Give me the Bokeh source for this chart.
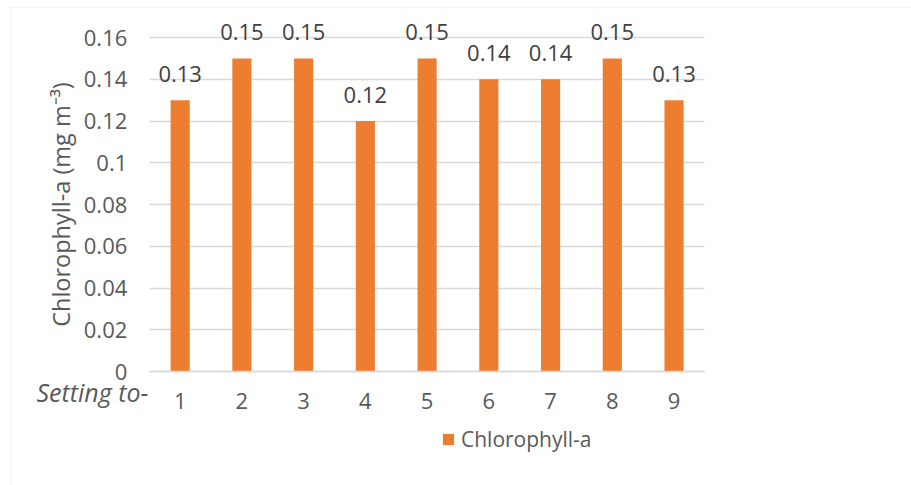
from bokeh.plotting import figure
from bokeh.models import (ColumnDataSource, LabelSet, Label, Legend, LegendItem,
                          FixedTicker, Range1d, BoxAnnotation)
from bokeh.core.properties import value
from bokeh.embed import file_html
from bokeh.resources import INLINE

# ---- data ----
settings = [1, 2, 3, 4, 5, 6, 7, 8, 9]
chlorophyll = [0.13, 0.15, 0.15, 0.12, 0.15, 0.14, 0.14, 0.15, 0.13]
value_labels = ["0.13", "0.15", "0.15", "0.12", "0.15", "0.14", "0.14", "0.15", "0.13"]
y_ticks = [0, 0.02, 0.04, 0.06, 0.08, 0.1, 0.12, 0.14, 0.16]
y_tick_labels = ["0", "0.02", "0.04", "0.06", "0.08", "0.1", "0.12", "0.14", "0.16"]
series_name = "Chlorophyll-a"
y_title = "Chlorophyll-a (mg m\u207b\u00b3)"
x_title = "Setting to-"

FONT = "Open Sans"
BAR = "#ED7D31"
GRID = "#D9D9D9"
TXT = "#595959"

W, H = 911, 485
# plot-area placement (pixels) inside the chart canvas
PX_LEFT, PX_RIGHT, PX_TOP, PX_BOTTOM = 148.8, 704.4, 37, 371
X_LO, X_HI = 0.5, 9.5
Y_LO, Y_HI = 0.0, 0.16
xs = (X_HI - X_LO) / (PX_RIGHT - PX_LEFT)
ys = (Y_HI - Y_LO) / (PX_BOTTOM - PX_TOP)
x_range = Range1d(X_LO - PX_LEFT * xs, X_HI + (W - PX_RIGHT) * xs)
y_range = Range1d(Y_LO - (H - PX_BOTTOM) * ys, Y_HI + PX_TOP * ys)

src = ColumnDataSource(dict(x=settings, y=chlorophyll, lab=value_labels))

p = figure(width=W, height=H, output_backend="svg", toolbar_location=None,
           x_range=x_range, y_range=y_range,
           min_border=0, min_border_left=0, min_border_right=0,
           min_border_top=0, min_border_bottom=0)
p.outline_line_color = None
p.background_fill_color = "white"
p.border_fill_color = "white"

# horizontal gridlines limited to the plot area
p.xgrid.grid_line_color = None
grid_ok = True
try:
    p.ygrid.cross_bounds = (X_LO, X_HI)
except Exception:
    grid_ok = False
if grid_ok:
    p.ygrid.ticker = FixedTicker(ticks=y_ticks)
    p.ygrid.grid_line_color = GRID
    p.ygrid.grid_line_width = 1.5
else:
    p.ygrid.grid_line_color = None
    p.segment(x0=[X_LO] * len(y_ticks), x1=[X_HI] * len(y_ticks), y0=y_ticks,
              y1=y_ticks, line_color=GRID, line_width=1.5)

r = p.vbar(x="x", top="y", width=0.31, source=src, fill_color=BAR, line_color=None)

# y axis
p.yaxis.fixed_location = X_LO
p.yaxis.bounds = (Y_LO, Y_HI)
p.yaxis.ticker = FixedTicker(ticks=y_ticks)
p.yaxis.major_label_overrides = {t: l for t, l in zip(y_ticks, y_tick_labels)}
p.yaxis.axis_line_color = None
p.yaxis.major_tick_line_color = None
p.yaxis.minor_tick_line_color = None
p.yaxis.major_tick_out = 0
p.yaxis.major_tick_in = 0
p.yaxis.major_label_standoff = 22
p.yaxis.major_label_text_font = FONT
p.yaxis.major_label_text_font_size = "22px"
p.yaxis.major_label_text_color = TXT

# x axis
p.xaxis.fixed_location = Y_LO
p.xaxis.bounds = (X_LO, X_HI)
p.xaxis.ticker = FixedTicker(ticks=settings)
p.xaxis.axis_line_color = GRID
p.xaxis.axis_line_width = 1.5
p.xaxis.major_tick_line_color = None
p.xaxis.minor_tick_line_color = None
p.xaxis.major_tick_out = 0
p.xaxis.major_tick_in = 0
p.xaxis.major_label_standoff = 21
p.xaxis.major_label_text_font = FONT
p.xaxis.major_label_text_font_size = "22px"
p.xaxis.major_label_text_color = TXT

# y axis title
p.add_layout(Label(x=X_LO, y=(Y_LO + Y_HI) / 2, x_offset=-88, text=y_title,
                   angle=90, angle_units="deg",
                   text_align="center", text_baseline="middle", text_font=FONT,
                   text_font_size="23.5px", text_color=TXT))

# value labels
labels = LabelSet(x="x", y="y", text="lab", source=src, y_offset=18,
                  text_align="center", text_baseline="alphabetic",
                  text_font=value(FONT), text_font_size=value("22px"),
                  text_color="#404040")
p.add_layout(labels)

# italic category title
p.add_layout(Label(x=X_LO, y=Y_LO, x_offset=-1, y_offset=-20, text=x_title,
                   text_align="right", text_baseline="alphabetic", text_font=FONT,
                   text_font_style="italic", text_font_size="25px", text_color=TXT))

# legend
legend = Legend(items=[LegendItem(label=series_name, renderers=[r])],
                location=(441, 32), orientation="horizontal",
                glyph_width=14, glyph_height=14, label_standoff=6, padding=0,
                margin=0, border_line_color=None, background_fill_alpha=0,
                label_text_font=FONT, label_text_font_size="21px",
                label_text_color=TXT)
p.add_layout(legend, "center")

# outer chart frame
p.add_layout(BoxAnnotation(left=10, right=1400, top=7, bottom=900,
                           left_units="canvas", right_units="canvas",
                           top_units="canvas", bottom_units="canvas",
                           fill_alpha=0, line_color=GRID, line_width=1.5))

open("out.html", "w").write(file_html(p, INLINE))
